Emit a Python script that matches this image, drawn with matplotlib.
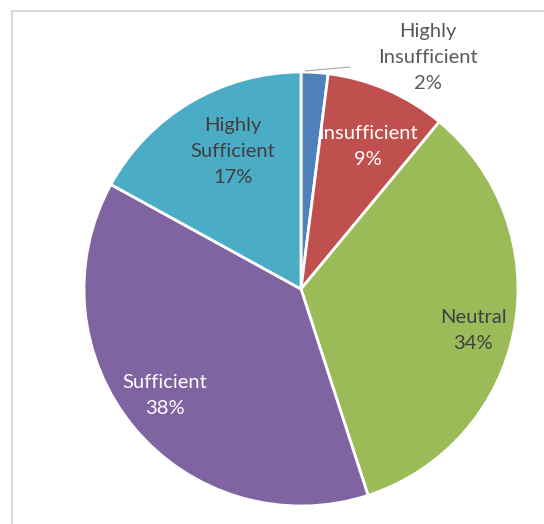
import matplotlib
matplotlib.use("Agg")
import matplotlib.pyplot as plt
from matplotlib.lines import Line2D

# Data
categories = ["Highly\nInsufficient", "Insufficient", "Neutral", "Sufficient", "Highly\nSufficient"]
values = [2, 9, 34, 38, 17]
colors = ["#4F81BD", "#C0504D", "#9BBB59", "#8064A2", "#4BACC6"]
text_colors = ["#595959", "white", "#404040", "white", "#404040"]

# label positions (in pie radius units)
label_pos = [(0.585, 1.065), (0.309, 0.655), (0.793, -0.19), (-0.627, -0.49), (-0.313, 0.635)]

plt.rcParams["font.family"] = ["Lato", "DejaVu Sans"]

fig = plt.figure(figsize=(5.44, 5.24), dpi=100)

# chart frame (only left and top edges visible)
fig.add_artist(Line2D([12 / 544, 12 / 544], [0, 1 - 11 / 524], color="#D9D9D9", lw=1.5))
fig.add_artist(Line2D([12 / 544, 1], [1 - 11 / 524, 1 - 11 / 524], color="#D9D9D9", lw=1.5))

ax = fig.add_axes([84 / 544, 18 / 524, 434 / 544, 434 / 524])
ax.pie(values, colors=colors, startangle=90, counterclock=False, radius=1,
       wedgeprops=dict(edgecolor="white", linewidth=2))
ax.set_xlim(-1, 1)
ax.set_ylim(-1, 1)
ax.set_aspect("equal")
ax.axis("off")

total = sum(values)
for cat, v, (x, y), tc in zip(categories, values, label_pos, text_colors):
    pct = round(100 * v / total)
    ax.text(x, y, f"{cat}\n{pct}%", ha="center", va="center", color=tc,
            fontsize=14.5, linespacing=1.65, clip_on=False)

# leader line for the small slice
ax.plot([0.02, 0.226], [1.005, 1.023], color="#A6A6A6", lw=0.8, clip_on=False)

fig.savefig("out.png", dpi=100)
